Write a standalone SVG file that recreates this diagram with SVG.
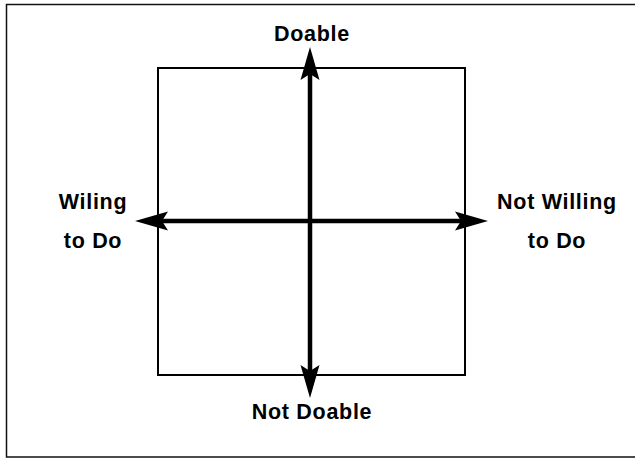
<svg xmlns="http://www.w3.org/2000/svg" width="635" height="460" viewBox="0 0 635 460">
<style>
.lbl{font-family:"Liberation Sans",Arial,Helvetica,sans-serif;font-weight:bold;font-size:21.5px;fill:#000;text-anchor:middle;letter-spacing:0.7px}
.axis{stroke:#000;stroke-width:4.5;fill:none}
</style>
<defs>
<marker id="ah" viewBox="-12 -10 36 20" markerWidth="36" markerHeight="20" refX="0" refY="0" markerUnits="userSpaceOnUse" orient="auto-start-reverse" overflow="visible">
<path d="M23,0 L-10,-9.5 L-4,0 L-10,9.5 Z" fill="#000"/>
</marker>
</defs>
<rect x="0" y="0" width="635" height="460" fill="#fff"/>
<rect id="frame" x="6.5" y="4.5" width="640" height="452.5" fill="none" stroke="#111" stroke-width="1.5"/>
<g id="quadrant">
<rect x="158" y="68" width="307" height="307" fill="none" stroke="#000" stroke-width="2"/>
</g>
<g id="connectors">
<line class="axis" x1="310" y1="70" x2="310" y2="375" marker-start="url(#ah)" marker-end="url(#ah)"/>
<line class="axis" x1="158" y1="221" x2="465" y2="221" marker-start="url(#ah)" marker-end="url(#ah)"/>
</g>
<g id="doable"><text class="lbl" x="312" y="41">Doable</text></g>
<g id="not-doable"><text class="lbl" x="312" y="419">Not Doable</text></g>
<g id="willing"><text class="lbl" x="93" y="209">Wiling</text><text class="lbl" x="93" y="248">to Do</text></g>
<g id="not-willing"><text class="lbl" x="557" y="209">Not Willing</text><text class="lbl" x="557" y="248">to Do</text></g>
</svg>
